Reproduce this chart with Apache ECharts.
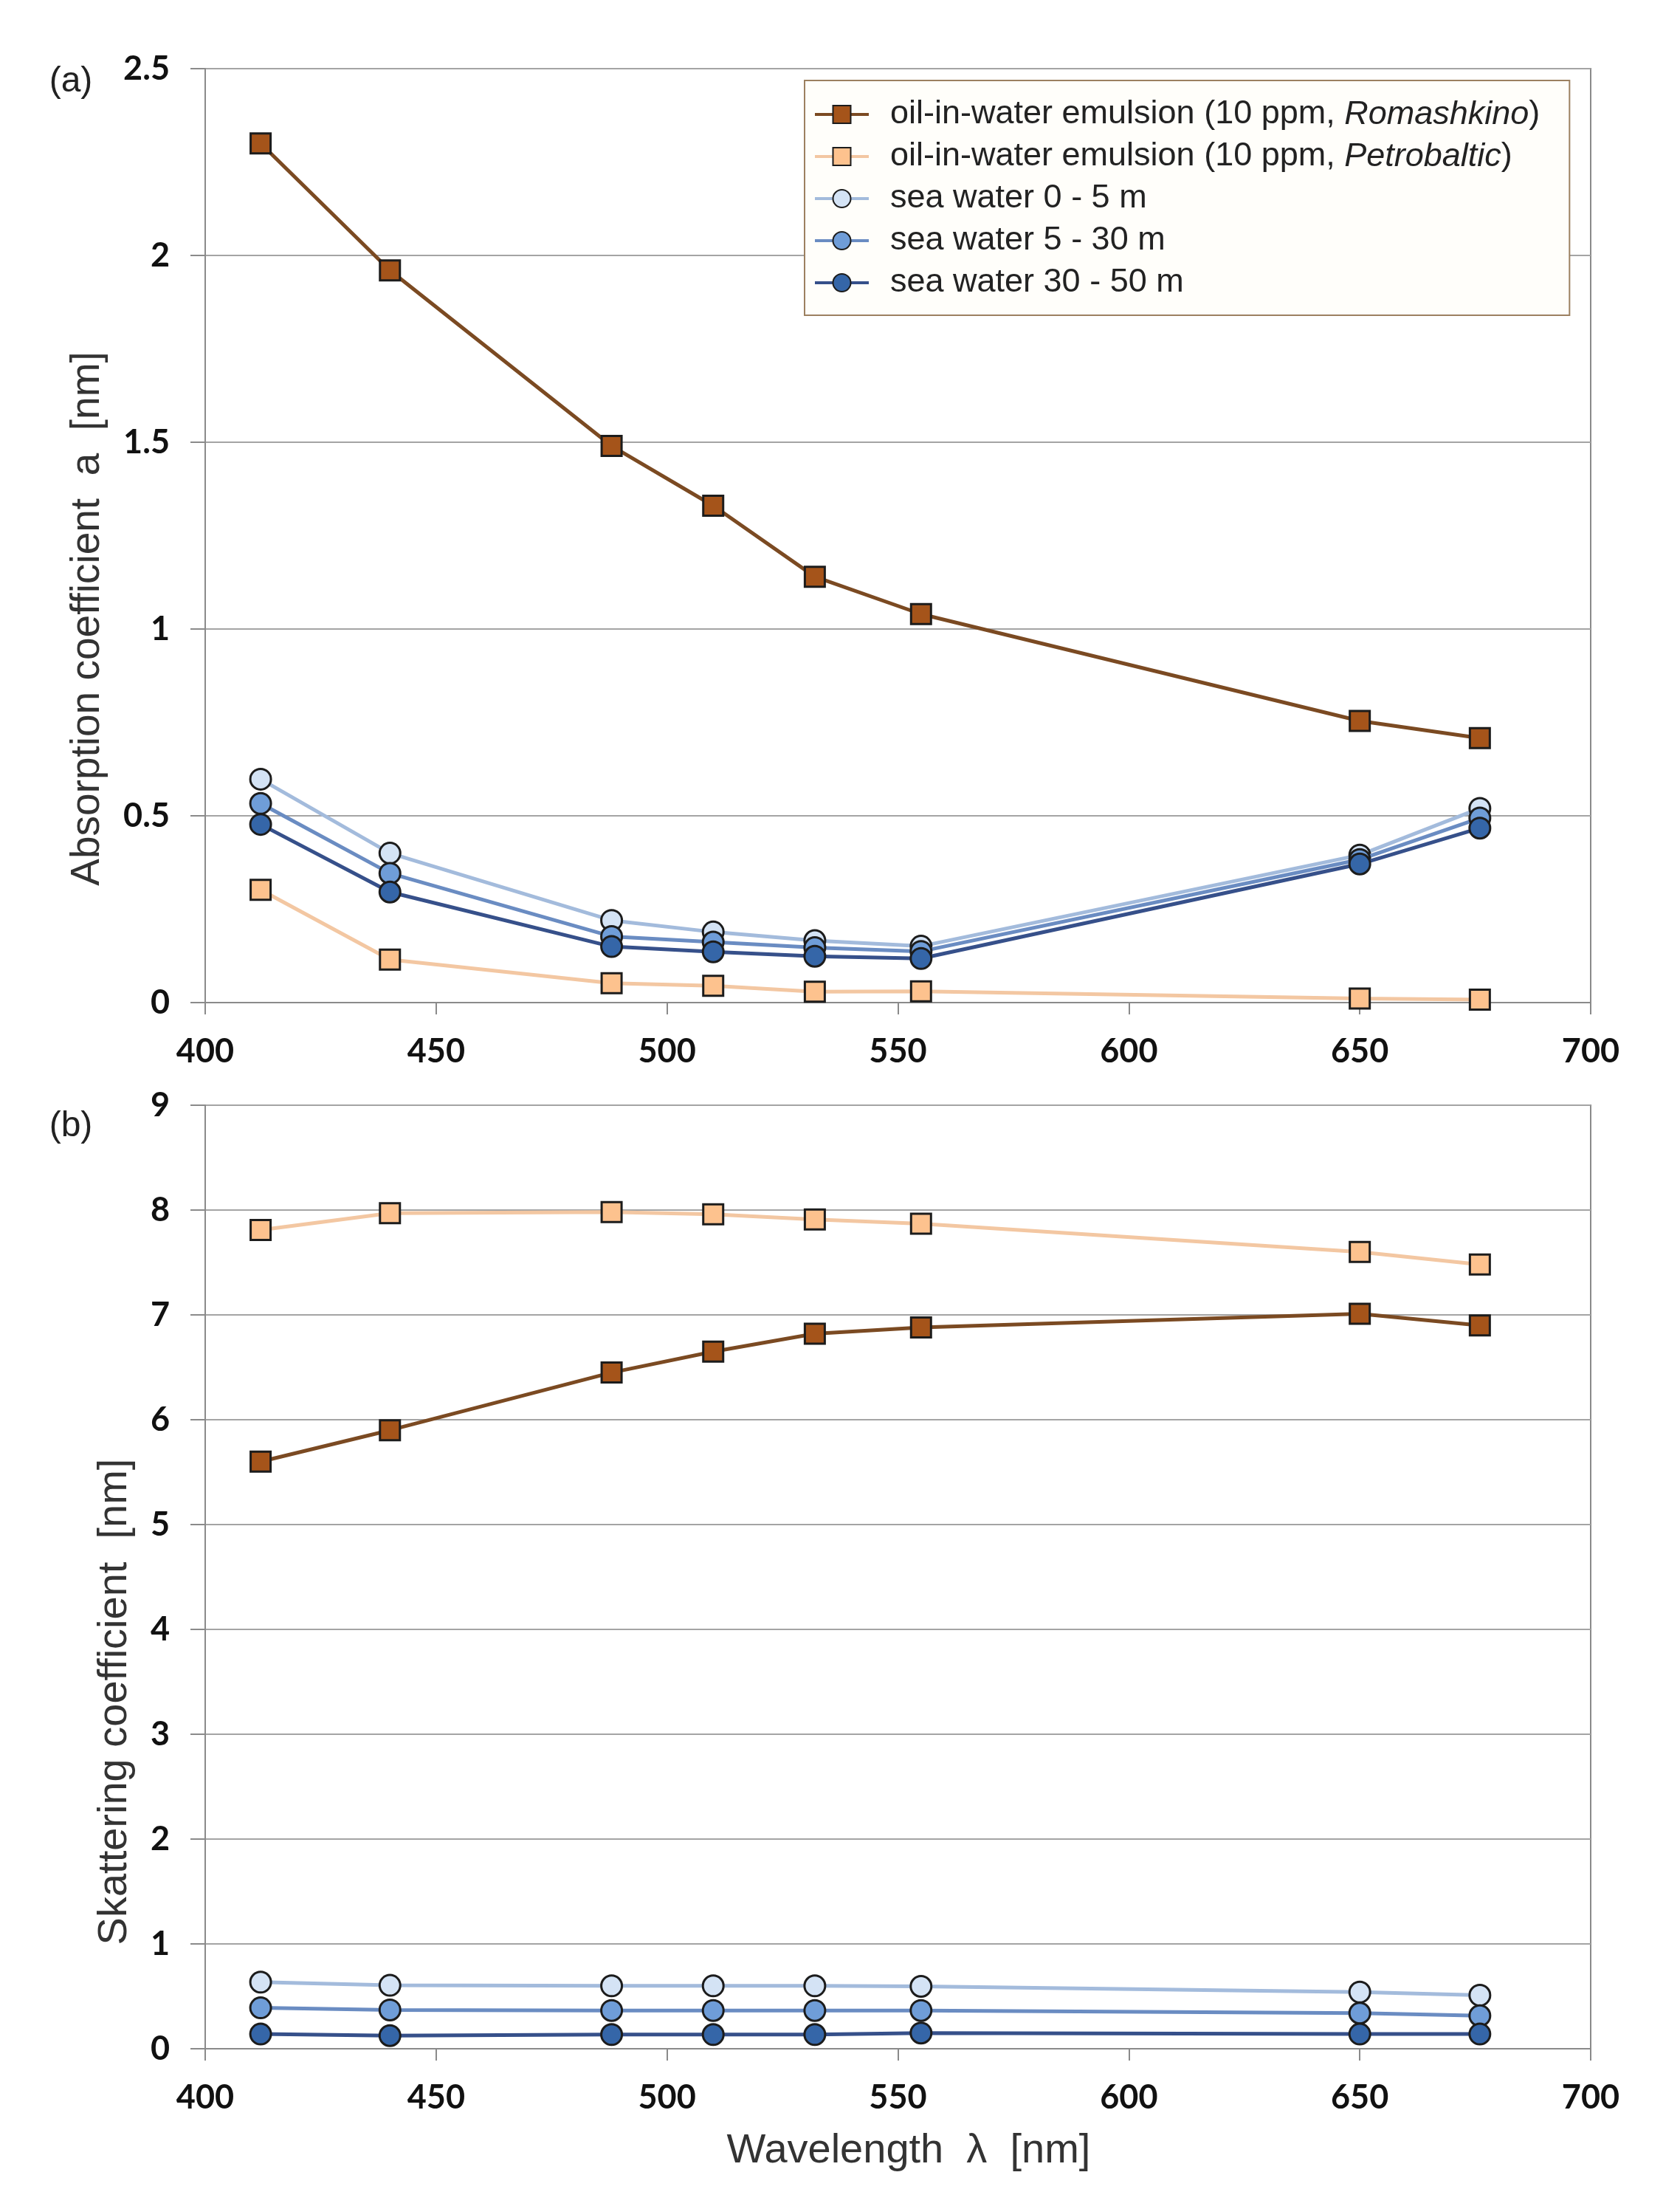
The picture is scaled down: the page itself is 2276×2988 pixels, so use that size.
<!DOCTYPE html>
<html>
<head>
<meta charset="utf-8">
<script src="https://cdn.jsdelivr.net/npm/echarts@6/dist/echarts.min.js"></script>
<style>
html,body{margin:0;padding:0;background:#fff;}
#chart{width:2276px;height:2988px;}
</style>
</head>
<body>
<div id="chart"></div>
<script>
// ---- data ----
var wavelengths = [412, 440, 488, 510, 532, 555, 650, 676];
var xTicks = [400, 450, 500, 550, 600, 650, 700];
var yTicksA = [0, 0.5, 1, 1.5, 2, 2.5];
var yTicksB = [0, 1, 2, 3, 4, 5, 6, 7, 8, 9];

var seriesNames = [
  'oil-in-water emulsion (10 ppm, Romashkino)',
  'oil-in-water emulsion (10 ppm, Petrobaltic)',
  'sea water 0 - 5 m',
  'sea water 5 - 30 m',
  'sea water 30 - 50 m'
];

// (a) absorption coefficient
var absRomashkino = [2.30, 1.96, 1.49, 1.33, 1.14, 1.04, 0.754, 0.708];
var absPetrobaltic = [0.302, 0.115, 0.052, 0.045, 0.029, 0.030, 0.011, 0.008];
var absSea0_5 = [0.598, 0.400, 0.220, 0.189, 0.166, 0.151, 0.395, 0.520];
var absSea5_30 = [0.533, 0.346, 0.177, 0.162, 0.147, 0.137, 0.383, 0.494];
var absSea30_50 = [0.477, 0.296, 0.150, 0.136, 0.124, 0.118, 0.371, 0.467];

// (b) scattering coefficient
var scaRomashkino = [5.60, 5.90, 6.45, 6.65, 6.82, 6.88, 7.01, 6.90];
var scaPetrobaltic = [7.81, 7.97, 7.98, 7.96, 7.91, 7.87, 7.60, 7.48];
var scaSea0_5 = [0.635, 0.605, 0.60, 0.60, 0.60, 0.595, 0.54, 0.51];
var scaSea5_30 = [0.39, 0.37, 0.365, 0.365, 0.365, 0.365, 0.34, 0.315];
var scaSea30_50 = [0.14, 0.125, 0.135, 0.135, 0.135, 0.15, 0.14, 0.14];

// ---- styles ----
var styles = [
  {symbol: 'rect', fill: '#A5541A', line: '#7B4A22'},
  {symbol: 'rect', fill: '#FDC28E', line: '#F3C7A2'},
  {symbol: 'circle', fill: '#D4E3F5', line: '#A3BBDC'},
  {symbol: 'circle', fill: '#6F9DD8', line: '#6A8CC2'},
  {symbol: 'circle', fill: '#3566A8', line: '#36508A'}
];

function pairs(vals) {
  return wavelengths.map(function (w, i) { return [w, vals[i]]; });
}

function makeSeries(idx, vals, gridIdx) {
  var s = styles[idx];
  return {
    name: seriesNames[idx],
    type: 'line',
    xAxisIndex: gridIdx,
    yAxisIndex: gridIdx,
    data: pairs(vals),
    symbol: s.symbol,
    symbolSize: s.symbol === 'rect' ? 27 : 28,
    showAllSymbol: true,
    lineStyle: {color: s.line, width: 5},
    itemStyle: {color: s.fill, borderColor: '#1c1c1c', borderWidth: 3},
    emphasis: {disabled: true},
    animation: false,
    z: 2 + idx
  };
}

var absSets = [absRomashkino, absPetrobaltic, absSea0_5, absSea5_30, absSea30_50];
var scaSets = [scaRomashkino, scaPetrobaltic, scaSea0_5, scaSea5_30, scaSea30_50];
var series = [];
absSets.forEach(function (v, i) { series.push(makeSeries(i, v, 0)); });
scaSets.forEach(function (v, i) { series.push(makeSeries(i, v, 1)); });

var tickFont = {fontFamily: 'Lato', fontWeight: 'bold', fontSize: 45, color: '#111'};

function xAxis(gridIdx) {
  return {
    type: 'value', gridIndex: gridIdx,
    min: xTicks[0], max: xTicks[xTicks.length - 1], interval: xTicks[1] - xTicks[0],
    axisLine: {show: true, lineStyle: {color: '#8a8a8a', width: 2}},
    axisTick: {show: true, length: 16, lineStyle: {color: '#8a8a8a', width: 2}},
    splitLine: {show: false},
    axisLabel: Object.assign({margin: 44}, tickFont)
  };
}
function yAxis(gridIdx, ticks) {
  return {
    type: 'value', gridIndex: gridIdx,
    min: ticks[0], max: ticks[ticks.length - 1], interval: ticks[1] - ticks[0],
    axisLine: {show: true, lineStyle: {color: '#8a8a8a', width: 2}},
    axisTick: {show: true, length: 20, lineStyle: {color: '#8a8a8a', width: 2}},
    splitLine: {show: true, lineStyle: {color: '#a4a4a4', width: 2}},
    axisLabel: Object.assign({margin: 48}, tickFont)
  };
}

var chart = echarts.init(document.getElementById('chart'), null, {renderer: 'canvas'});
chart.setOption({
  backgroundColor: '#ffffff',
  animation: false,
  grid: [
    {left: 278, top: 93, width: 1877, height: 1265, show: true, borderColor: '#8a8a8a', borderWidth: 2, backgroundColor: 'transparent'},
    {left: 278, top: 1497, width: 1877, height: 1278, show: true, borderColor: '#8a8a8a', borderWidth: 2, backgroundColor: 'transparent'}
  ],
  xAxis: [xAxis(0), xAxis(1)],
  yAxis: [yAxis(0, yTicksA), yAxis(1, yTicksB)],
  legend: {
    data: seriesNames,
    orient: 'vertical',
    left: 1090, top: 109,
    padding: [20, 40, 18, 12],
    itemGap: 5,
    itemWidth: 73,
    itemHeight: 30,
    backgroundColor: '#FFFEFA',
    borderColor: '#9C8060',
    borderWidth: 2,
    borderRadius: 0,
    selectedMode: false,
    lineStyle: {width: 4},
    formatter: function (name) {
      if (name.indexOf('Romashkino') >= 0) return 'oil-in-water emulsion (10 ppm, {i|Romashkino})';
      if (name.indexOf('Petrobaltic') >= 0) return 'oil-in-water emulsion (10 ppm, {i|Petrobaltic})';
      return name;
    },
    textStyle: {
      fontFamily: '"Liberation Sans", Arial, sans-serif', fontSize: 45, color: '#222',
      lineHeight: 52,
      padding: [0, 0, 0, 24],
      rich: {
        i: {fontFamily: '"Liberation Sans", Arial, sans-serif', fontSize: 45, lineHeight: 52, fontStyle: 'italic', color: '#222'}
      }
    }
  },
  graphic: [
    {type: 'text', x: 96, y: 111, style: {text: '(a)', font: '48px "Liberation Sans", Arial, sans-serif', fill: '#222', textAlign: 'center', textVerticalAlign: 'middle'}},
    {type: 'text', x: 96, y: 1526, style: {text: '(b)', font: '48px "Liberation Sans", Arial, sans-serif', fill: '#222', textAlign: 'center', textVerticalAlign: 'middle'}},
    {type: 'text', x: 119, y: 838, rotation: Math.PI / 2, style: {text: 'Absorption coefficient  a  [nm]', font: '55px "Liberation Sans", Arial, sans-serif', fill: '#333', textAlign: 'center', textVerticalAlign: 'middle'}},
    {type: 'text', x: 156, y: 2305, rotation: Math.PI / 2, style: {text: 'Skattering coefficient  [nm]', font: '56px "Liberation Sans", Arial, sans-serif', fill: '#333', textAlign: 'center', textVerticalAlign: 'middle'}},
    {type: 'text', x: 1231, y: 2914, style: {text: 'Wavelength  \u03bb  [nm]', font: '56px "Liberation Sans", Arial, sans-serif', fill: '#333', textAlign: 'center', textVerticalAlign: 'middle'}}
  ],
  series: series
});
</script>
</body>
</html>
